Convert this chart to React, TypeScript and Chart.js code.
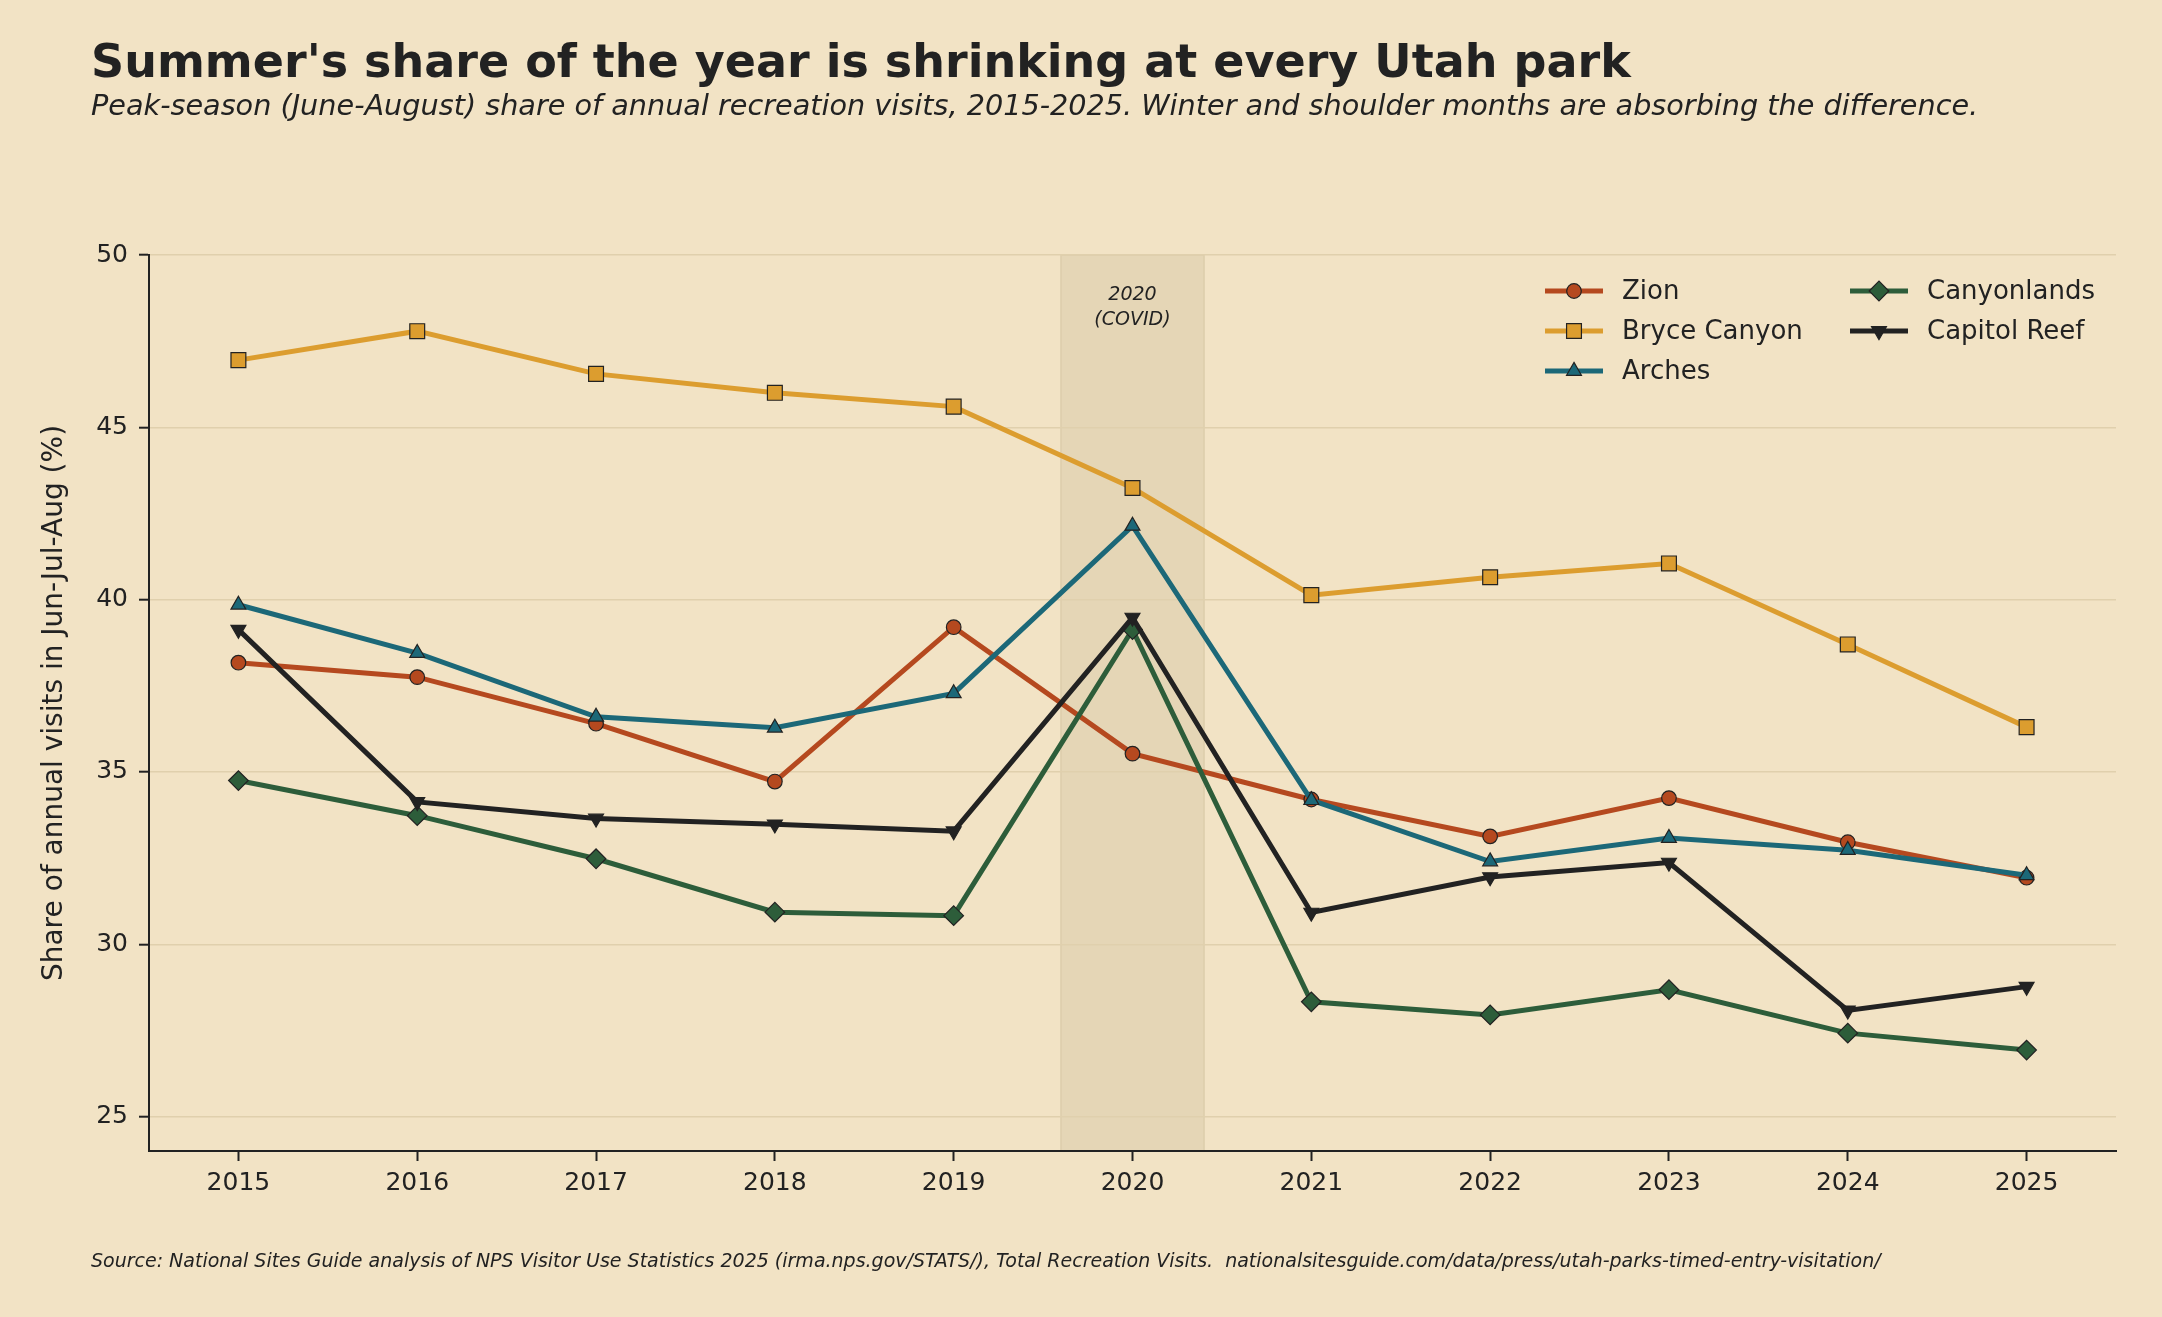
import React, { useEffect, useRef } from "react";
import { Chart, registerables } from "chart.js";
import { drawPoint } from "chart.js/helpers";

Chart.register(...registerables);

const years = [2015, 2016, 2017, 2018, 2019, 2020, 2021, 2022, 2023, 2024, 2025];
const yTicks = [25, 30, 35, 40, 45, 50];

const zion = [38.17, 37.75, 36.4, 34.72, 39.2, 35.53, 34.2, 33.13, 34.24, 32.96, 31.93];
const bryceCanyon = [46.95, 47.79, 46.55, 46.0, 45.6, 43.24, 40.13, 40.65, 41.05, 38.7, 36.3];
const arches = [39.85, 38.45, 36.6, 36.28, 37.28, 42.14, 34.18, 32.4, 33.08, 32.73, 32.0];
const canyonlands = [34.75, 33.73, 32.48, 30.93, 30.83, 39.13, 28.33, 27.95, 28.68, 27.42, 26.93];
const capitolReef = [39.13, 34.13, 33.65, 33.48, 33.28, 39.48, 30.92, 31.95, 32.37, 28.08, 28.77];

const seriesNames = ["Zion", "Bryce Canyon", "Arches", "Canyonlands", "Capitol Reef"];
const seriesValues = [zion, bryceCanyon, arches, canyonlands, capitolReef];
const seriesColors = ["#b5491f", "#dc9d2f", "#1c6878", "#2d5d3a", "#222222"];
const seriesStyles = ["circle", "rect", "triangle", "rectRot", "triangle"];
const seriesRotation = [0, 0, 0, 0, 180];
const seriesRadius = [7.3, 10.5, 8.6, 9.8, 8.6];

const covidYear = 2020;
const covidHalfWidth = 0.4;

const FONT = "'DejaVu Sans', 'Noto Sans', sans-serif";
const INK = "#222222";
const BG = "#f2e3c5";

export default function App() {
  const canvasRef = useRef<HTMLCanvasElement | null>(null);

  useEffect(() => {
    const canvas = canvasRef.current;
    if (!canvas) return;

    const bandPlugin = {
      id: "covidBand",
      beforeDraw(chart: any) {
        const { ctx, chartArea, scales } = chart;
        const x0 = scales.x.getPixelForValue(covidYear - covidHalfWidth);
        const x1 = scales.x.getPixelForValue(covidYear + covidHalfWidth);
        ctx.save();
        ctx.fillStyle = "#e5d6b6";
        ctx.fillRect(x0, chartArea.top, x1 - x0, chartArea.bottom - chartArea.top);
        ctx.strokeStyle = "#ddcdab";
        ctx.lineWidth = 1.5;
        ctx.strokeRect(x0, chartArea.top, x1 - x0, chartArea.bottom - chartArea.top);
        ctx.restore();
      },
      afterDatasetsDraw(chart: any) {
        const { ctx, chartArea, scales } = chart;
        const xc = scales.x.getPixelForValue(covidYear);
        ctx.save();
        ctx.fillStyle = INK;
        ctx.font = `italic 19px ${FONT}`;
        ctx.textAlign = "center";
        ctx.textBaseline = "middle";
        ctx.fillText("2020", xc, chartArea.top + 40);
        ctx.fillText("(COVID)", xc, chartArea.top + 65);
        ctx.restore();
      },
    };

    const legendPlugin = {
      id: "customLegend",
      afterDraw(chart: any) {
        const { ctx } = chart;
        const colX = [1545, 1850];
        const rowY = [291, 331, 371];
        const lineLen = 58;
        ctx.save();
        chart.data.datasets.forEach((ds: any, i: number) => {
          const col = i < 3 ? 0 : 1;
          const row = i < 3 ? i : i - 3;
          const x = colX[col];
          const y = rowY[row];
          ctx.strokeStyle = ds.borderColor;
          ctx.lineWidth = ds.borderWidth;
          ctx.lineCap = "butt";
          ctx.beginPath();
          ctx.moveTo(x, y);
          ctx.lineTo(x + lineLen, y);
          ctx.stroke();
          ctx.fillStyle = ds.pointBackgroundColor;
          ctx.strokeStyle = ds.pointBorderColor;
          ctx.lineWidth = ds.pointBorderWidth;
          drawPoint(
            ctx,
            {
              pointStyle: ds.pointStyle,
              rotation: ds.pointRotation,
              radius: ds.pointRadius,
              borderWidth: ds.pointBorderWidth,
            } as any,
            x + lineLen / 2,
            y
          );
          ctx.fillStyle = INK;
          ctx.font = `26px ${FONT}`;
          ctx.textAlign = "left";
          ctx.textBaseline = "middle";
          ctx.fillText(ds.label, x + lineLen + 19, y + 1);
        });
        ctx.restore();
      },
    };

    const datasets = seriesNames.map((name, i) => ({
      label: name,
      data: years.map((yr, j) => ({ x: yr, y: seriesValues[i][j] })),
      borderColor: seriesColors[i],
      backgroundColor: seriesColors[i],
      borderWidth: 5,
      tension: 0,
      pointStyle: seriesStyles[i],
      pointRotation: seriesRotation[i],
      pointRadius: seriesRadius[i],
      pointBackgroundColor: seriesColors[i],
      pointBorderColor: INK,
      pointBorderWidth: 1.2,
      order: seriesNames.length - 1 - i,
    }));

    const chart = new Chart(canvas, {
      type: "line",
      data: { datasets },
      plugins: [bandPlugin, legendPlugin],
      options: {
        animation: false,
        responsive: false,
        devicePixelRatio: 1,
        events: [],
        layout: { padding: { left: 0, right: 46, top: 255, bottom: 0 } },
        plugins: {
          legend: { display: false },
          tooltip: { enabled: false },
          title: { display: false },
        },
        scales: {
          x: {
            type: "linear",
            min: 2014.5,
            max: 2025.5,
            afterBuildTicks: (scale: any) => {
              scale.ticks = years.map((v) => ({ value: v }));
            },
            afterFit: (scale: any) => {
              scale.height = 1317 - 1151;
            },
            ticks: {
              color: INK,
              font: { family: FONT, size: 25 },
              padding: 7,
              maxRotation: 0,
              callback: (v: any) => String(v),
            },
            grid: {
              drawOnChartArea: false,
              drawTicks: true,
              tickLength: 10,
              tickColor: INK,
              tickWidth: 2,
            },
            border: { display: true, color: INK, width: 2 },
          },
          y: {
            type: "linear",
            min: 24,
            max: 50,
            afterBuildTicks: (scale: any) => {
              scale.ticks = yTicks.map((v) => ({ value: v }));
            },
            afterFit: (scale: any) => {
              scale.width = 149;
            },
            ticks: {
              color: INK,
              font: { family: FONT, size: 25 },
              padding: 11,
              callback: (v: any) => String(v),
            },
            grid: {
              color: "#e0d0ad",
              lineWidth: 1.4,
              drawTicks: true,
              tickLength: 10,
              tickColor: INK,
              tickWidth: 2,
            },
            border: { display: true, color: INK, width: 2 },
            title: {
              display: true,
              text: "Share of annual visits in Jun-Jul-Aug (%)",
              color: INK,
              font: { family: FONT, size: 28 },
              padding: { top: 38, bottom: 0 },
            },
          },
        },
      },
    } as any);

    return () => {
      chart.destroy();
    };
  }, []);

  return (
    <div
      style={{
        position: "fixed",
        left: 0,
        top: 0,
        width: 2162,
        height: 1317,
        background: BG,
        overflow: "hidden",
        fontFamily: FONT,
        color: INK,
      }}
    >
      <canvas
        ref={canvasRef}
        width={2162}
        height={1317}
        style={{ position: "absolute", left: 0, top: 0, width: 2162, height: 1317 }}
      />
      <div
        style={{
          position: "absolute",
          left: 91,
          top: 38,
          fontSize: 46,
          fontWeight: "bold",
          lineHeight: 1,
          whiteSpace: "nowrap",
        }}
      >
        Summer's share of the year is shrinking at every Utah park
      </div>
      <div
        style={{
          position: "absolute",
          left: 91,
          top: 91,
          fontSize: 28.7,
          fontStyle: "italic",
          lineHeight: 1,
          whiteSpace: "nowrap",
        }}
      >
        Peak-season (June-August) share of annual recreation visits, 2015-2025. Winter and shoulder months are absorbing the difference.
      </div>
      <div
        style={{
          position: "absolute",
          left: 91,
          top: 1251,
          fontSize: 19,
          fontStyle: "italic",
          lineHeight: 1,
          whiteSpace: "pre",
        }}
      >
        {"Source: National Sites Guide analysis of NPS Visitor Use Statistics 2025 (irma.nps.gov/STATS/), Total Recreation Visits.  nationalsitesguide.com/data/press/utah-parks-timed-entry-visitation/"}
      </div>
    </div>
  );
}
